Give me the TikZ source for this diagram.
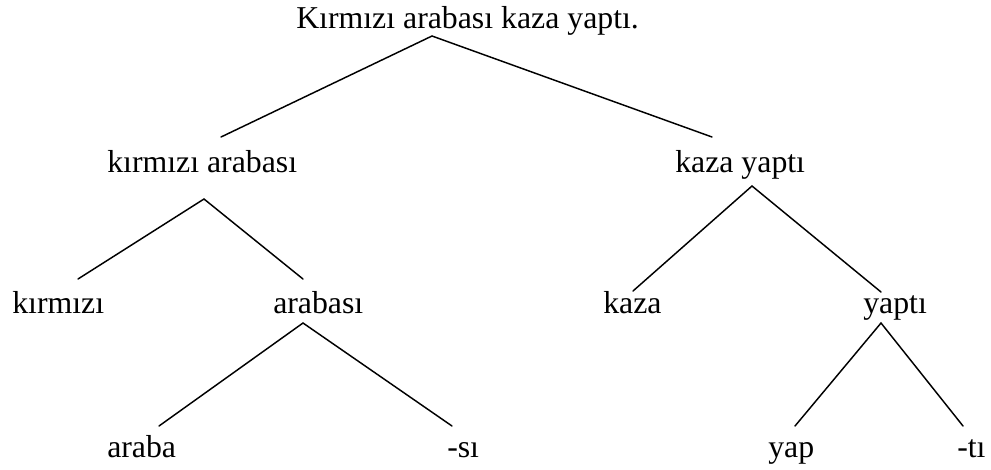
\documentclass[tikz,border=0pt]{standalone}
\usepackage{fontspec}
\setmainfont{Liberation Serif}
\begin{document}
\begin{tikzpicture}[x=0.75pt,y=-0.75pt,
  word/.style={inner sep=0pt, anchor=base west, font=\fontsize{23.85}{28}\selectfont},
  edge/.style={line width=1.1pt, line cap=round}]
\useasboundingbox[fill=white] (0,0) rectangle (991,469);
% nodes
\node[word] (root) at (296,28) {Kırmızı arabası kaza yaptı.};
\node[word] (kira) at (107,172) {kırmızı arabası};
\node[word] (kaya) at (675,172) {kaza yaptı};
\node[word] (kir) at (12,313) {kırmızı};
\node[word] (arb) at (273,313) {arabası};
\node[word] (kaz) at (603,313) {kaza};
\node[word] (yapti) at (863,313) {yaptı};
\node[word] (araba) at (107,457) {araba};
\node[word] (si) at (447,457) {-sı};
\node[word] (yap) at (768,457) {yap};
\node[word] (ti) at (957,457) {-tı};
% connector ends
\coordinate (root-s) at (432,36);
\coordinate (kira-n) at (221,137);
\coordinate (kaya-n) at (712,137);
\coordinate (kira-s) at (204,199);
\coordinate (kir-n) at (78,279);
\coordinate (arb-n) at (303,279);
\coordinate (kaya-s) at (752,186);
\coordinate (kaz-n) at (633,291);
\coordinate (yapti-n) at (881,292);
\coordinate (arb-s) at (303,323);
\coordinate (araba-n) at (159,426);
\coordinate (si-n) at (452,426);
\coordinate (yapti-s) at (881,323);
\coordinate (yap-n) at (795,426);
\coordinate (ti-n) at (963,426);
% connectors
\draw[edge] (kira-n) -- (root-s) -- (kaya-n);
\draw[edge] (kir-n) -- (kira-s) -- (arb-n);
\draw[edge] (kaz-n) -- (kaya-s) -- (yapti-n);
\draw[edge] (araba-n) -- (arb-s) -- (si-n);
\draw[edge] (yap-n) -- (yapti-s) -- (ti-n);
\end{tikzpicture}
\end{document}
